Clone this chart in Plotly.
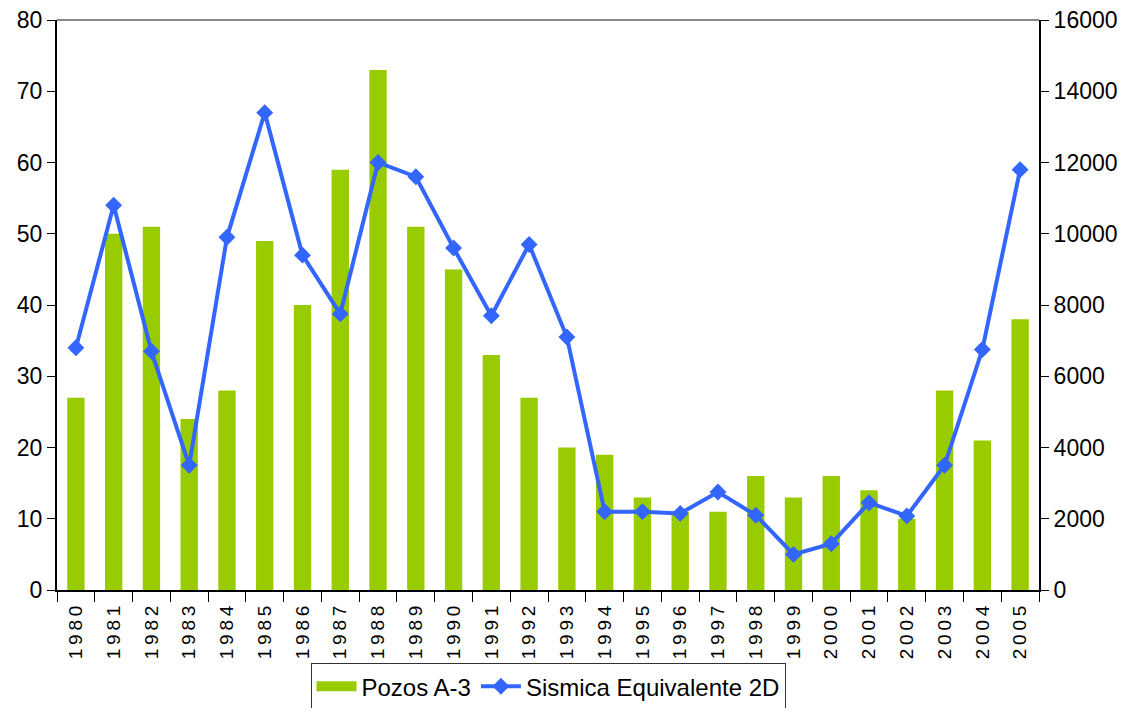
import plotly.graph_objects as go

YEARS = [str(y) for y in range(1980, 2006)]
POZOS = [27, 50, 51, 24, 28, 49, 40, 59, 73, 51, 45, 33, 27, 20, 19, 13, 11, 11,
         16, 13, 16, 14, 10, 28, 21, 38]
SISMICA = [6800, 10800, 6700, 3500, 9900, 13400, 9400, 7750, 12000, 11600, 9600,
           7700, 9700, 7100, 2200, 2200, 2150, 2750, 2100, 1000, 1300, 2450, 2080,
           3500, 6750, 11800]

GREEN = "#99cc00"
BLUE = "#3366ff"
FONT = "Liberation Sans, Arial, sans-serif"

# spread the digits like the original's wide tracking
tick_text = ["\u2009".join(y) for y in YEARS]

fig = go.Figure()
# legend-only stand-in so the bar key is drawn as a wide block
fig.add_trace(go.Scatter(
    x=[None], y=[None], name="Pozos A-3", mode="lines",
    line=dict(color=GREEN, width=18), hoverinfo="skip",
))
fig.add_trace(go.Bar(
    x=YEARS, y=POZOS, name="Pozos A-3", showlegend=False,
    marker=dict(color=GREEN, line=dict(width=0)),
))
fig.add_trace(go.Scatter(
    x=YEARS, y=SISMICA, name="Sismica Equivalente 2D", yaxis="y2",
    mode="lines+markers",
    line=dict(color=BLUE, width=4),
    marker=dict(symbol="diamond", size=13, color=BLUE),
))

# page body has an 8px margin all round; size the figure to fit inside it
fig.update_layout(
    width=1111, height=700,
    paper_bgcolor="white", plot_bgcolor="white",
    font=dict(family=FONT, color="black", size=23),
    margin=dict(l=49, r=80, t=12, b=118),
    bargap=0.54,
    showlegend=True,
    legend=dict(
        orientation="h", x=0.5, xanchor="center",
        yref="container", y=0.064, yanchor="top",
        bordercolor="#333333", borderwidth=1, font=dict(size=24),
        itemwidth=40, tracegroupgap=0,
    ),
    xaxis=dict(
        type="category", tickmode="array", tickvals=YEARS, ticktext=tick_text,
        range=[-0.5, len(YEARS) - 0.5],
        tickangle=-90, tickfont=dict(size=19),
        showline=True, linecolor="black", linewidth=2,
        ticks="outside", ticklen=10, tickcolor="black", tickson="boundaries",
        ticklabelstandoff=6,
        showgrid=False, mirror=False, automargin=False,
    ),
    yaxis=dict(
        range=[0, 80], dtick=10, showgrid=False,
        showline=True, linecolor="black", linewidth=2,
        ticks="outside", ticklen=8, tickcolor="black",
        zeroline=False, automargin=False, ticklabeloverflow="allow",
    ),
    yaxis2=dict(
        overlaying="y", side="right", range=[0, 16000], dtick=2000,
        tickformat="d",
        showgrid=False, showline=True, linecolor="black", linewidth=2,
        ticks="outside", ticklen=8, tickcolor="black", zeroline=False,
        automargin=False, ticklabeloverflow="allow",
    ),
    shapes=[dict(type="line", xref="paper", yref="paper", x0=0, x1=1, y0=1, y1=1,
                 line=dict(color="#888888", width=2))],
)

fig.write_html("out.html")
